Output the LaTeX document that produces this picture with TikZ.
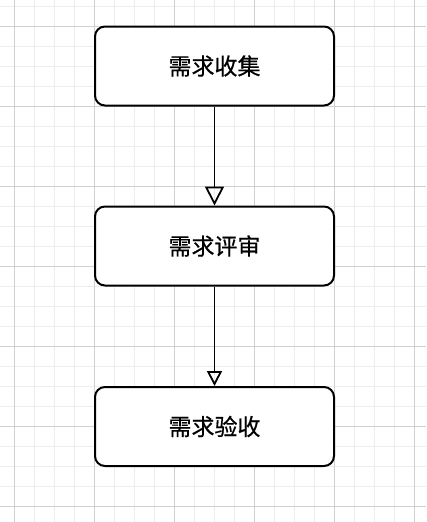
\documentclass[tikz,border=0pt]{standalone}
\usepackage{fontspec}
\newfontfamily\cjk[FakeBold=0.6]{Noto Sans CJK SC}
\usetikzlibrary{arrows.meta}
\definecolor{gridminor}{HTML}{EDEDED}
\definecolor{gridmajor}{HTML}{D0D0D0}
\begin{document}
\begin{tikzpicture}[x=1pt,y=-1pt,
  stepbox/.style={draw=black, line width=2pt, rounded corners=10pt, fill=white,
    minimum width=239pt, minimum height=79pt, inner sep=0pt, font=\cjk\fontsize{23}{26}\selectfont},
  flow/.style={line width=1.8pt, -{Triangle[open, length=#1, width=#1, line width=1.8pt]}},
  flow/.default=18pt]
\useasboundingbox (0,0) rectangle (426,522);
\fill[white] (0,0) rectangle (426,522);
\foreach \x in {-6,14,...,426} \draw[gridminor, line width=0.9pt] (\x,0) -- (\x,522);
\foreach \y in {6,26,...,522} \draw[gridminor, line width=0.9pt] (0,\y) -- (426,\y);
\foreach \x in {14,94,...,426} \draw[gridmajor, line width=0.9pt] (\x,0) -- (\x,522);
\foreach \y in {26,106,...,522} \draw[gridmajor, line width=0.9pt] (0,\y) -- (426,\y);
\node[stepbox] (a) at (214.5,66) {需求收集};
\node[stepbox] (b) at (214.5,246) {需求评审};
\node[stepbox] (c) at (214.5,426.5) {需求验收};
\draw[flow=19pt] (a) -- (b);
\draw[flow=15pt] (b) -- (c);
\end{tikzpicture}
\end{document}
